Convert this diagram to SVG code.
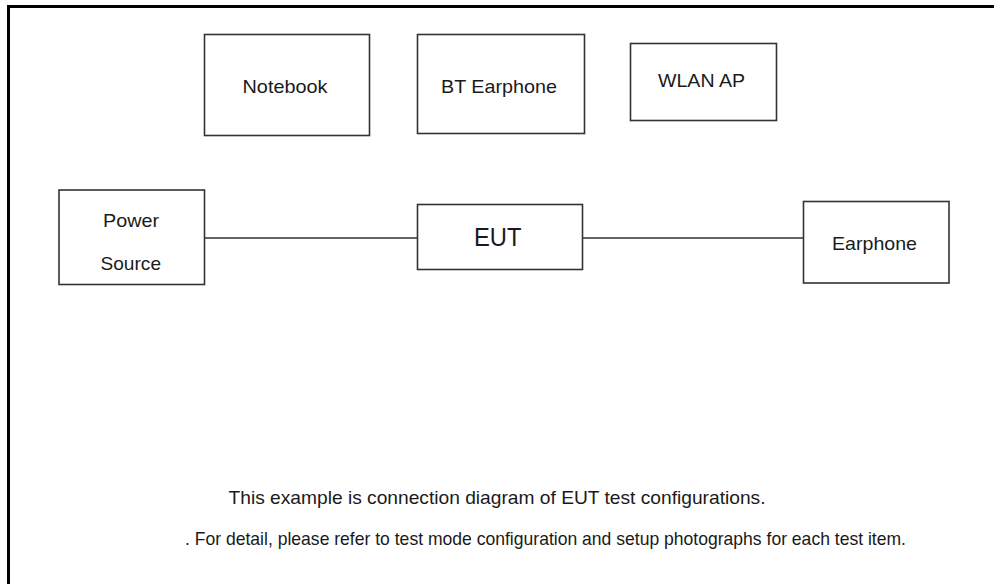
<svg xmlns="http://www.w3.org/2000/svg" width="994" height="584" viewBox="0 0 994 584">
<style>
.box{fill:#fff;stroke:#333;stroke-width:1.6}
.lbl{font-family:"Liberation Sans",Arial,sans-serif;font-size:19px;fill:#1a1a1a}
.note{font-family:"Liberation Sans",Arial,sans-serif;font-size:18.5px;fill:#1a1a1a}
.wire{stroke:#333;stroke-width:1.6;fill:none}
</style>
<rect width="994" height="584" fill="#fff"/>
<path d="M8.5,584 V6.5 H994" fill="none" stroke="#000" stroke-width="3"/>
<g id="connectors">
<line class="wire" x1="204" y1="238" x2="417" y2="238"/>
<line class="wire" x1="583" y1="238" x2="803" y2="238"/>
</g>
<g id="notebook">
<rect class="box" x="204.5" y="34.5" width="165" height="101"/>
<text class="lbl" x="242.5" y="92.5" textLength="85" lengthAdjust="spacingAndGlyphs">Notebook</text>
</g>
<g id="bt-earphone">
<rect class="box" x="417.5" y="34.5" width="167" height="99"/>
<text class="lbl" x="441" y="93" textLength="116" lengthAdjust="spacingAndGlyphs">BT Earphone</text>
</g>
<g id="wlan-ap">
<rect class="box" x="630.5" y="43.5" width="146" height="77"/>
<text class="lbl" x="658" y="87" textLength="87" lengthAdjust="spacingAndGlyphs">WLAN AP</text>
</g>
<g id="power-source">
<rect class="box" x="59" y="190" width="145.5" height="94.5"/>
<text class="lbl" x="103" y="227" textLength="56" lengthAdjust="spacingAndGlyphs">Power</text>
<text class="lbl" x="100.5" y="270" textLength="60.5" lengthAdjust="spacingAndGlyphs">Source</text>
</g>
<g id="eut">
<rect class="box" x="417.5" y="204.5" width="165" height="65"/>
<text class="lbl" x="474" y="245.5" style="font-size:25px" textLength="47.5" lengthAdjust="spacingAndGlyphs">EUT</text>
</g>
<g id="earphone">
<rect class="box" x="803.5" y="201.5" width="145.5" height="81.5"/>
<text class="lbl" x="832" y="250" textLength="85" lengthAdjust="spacingAndGlyphs">Earphone</text>
</g>
<g id="notes">
<text class="note" x="228.5" y="504" textLength="537" lengthAdjust="spacingAndGlyphs">This example is connection diagram of EUT test configurations.</text>
<text class="note" x="185" y="545" textLength="721" lengthAdjust="spacingAndGlyphs">. For detail, please refer to test mode configuration and setup photographs for each test item.</text>
</g>
</svg>
